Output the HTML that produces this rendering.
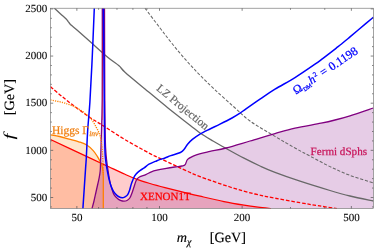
<!DOCTYPE html>
<html><head><meta charset="utf-8"><style>
html,body{margin:0;padding:0;background:#fff;}
body{width:375px;height:250px;overflow:hidden;font-family:"Liberation Serif",serif;}
svg{display:block;position:absolute;left:0;top:0;will-change:transform;}
text{font-family:"Liberation Serif",serif;text-rendering:geometricPrecision;}
</style></head><body>
<svg width="375" height="250" viewBox="0 0 375 250">
<rect x="0" y="0" width="375" height="250" fill="#ffffff"/>
<defs><clipPath id="c"><rect x="50.5" y="8.2" width="322.9" height="200.4"/></clipPath></defs>
<g clip-path="url(#c)" fill="none" stroke-linejoin="round">
<path d="M50.50,139.50 C56.58,142.35 77.28,152.05 87.00,156.60 C96.72,161.15 102.47,163.85 108.80,166.80 C115.13,169.75 120.30,172.20 125.00,174.30 C129.70,176.40 132.83,177.87 137.00,179.40 C141.17,180.93 145.33,182.13 150.00,183.50 C154.67,184.87 159.17,186.08 165.00,187.60 C170.83,189.12 179.17,191.17 185.00,192.60 C190.83,194.03 193.50,194.70 200.00,196.20 C206.50,197.70 216.67,200.10 224.00,201.60 C231.33,203.10 238.33,204.27 244.00,205.20 C249.67,206.13 253.50,206.63 258.00,207.20 C262.50,207.77 268.83,208.37 271.00,208.60 L50.50,208.60 Z" fill="rgb(255,0,0)" fill-opacity="0.2"/>
<path d="M50.50,134.90 C52.02,135.17 56.48,135.80 59.60,136.50 C62.72,137.20 66.00,138.22 69.20,139.10 C72.40,139.98 75.87,140.82 78.80,141.80 C81.73,142.78 84.40,143.53 86.80,145.00 C89.20,146.47 91.47,148.73 93.20,150.60 C94.93,152.47 96.00,154.27 97.20,156.20 C98.40,158.13 99.55,160.40 100.40,162.20 C101.25,164.00 101.85,165.37 102.30,167.00 C102.75,168.63 102.93,170.17 103.10,172.00 C103.27,173.83 103.27,177.00 103.30,178.00 L103.3,208.60 L50.50,208.60 Z" fill="rgb(255,128,0)" fill-opacity="0.2"/>
<path d="M92.00,208.60 C92.33,207.33 93.33,203.77 94.00,201.00 C94.67,198.23 95.37,194.83 96.00,192.00 C96.63,189.17 97.27,186.40 97.80,184.00 C98.33,181.60 98.80,179.77 99.20,177.60 C99.60,175.43 99.98,173.27 100.20,171.00 C100.42,168.73 100.33,169.17 100.50,164.00 C100.67,158.83 100.92,150.67 101.20,140.00 C101.48,129.33 102.02,121.97 102.20,100.00 C102.38,78.03 102.28,23.50 102.30,8.20 L104.50,8.20 C104.55,23.50 104.67,78.03 104.80,100.00 C104.93,121.97 105.08,130.83 105.30,140.00 C105.52,149.17 105.80,151.00 106.10,155.00 C106.40,159.00 106.52,159.83 107.10,164.00 C107.68,168.17 108.85,176.00 109.60,180.00 C110.35,184.00 110.87,185.57 111.60,188.00 C112.33,190.43 112.93,192.77 114.00,194.60 C115.07,196.43 116.83,197.98 118.00,199.00 C119.17,200.02 120.00,200.33 121.00,200.70 C122.00,201.07 123.00,201.23 124.00,201.20 C125.00,201.17 126.03,201.03 127.00,200.50 C127.97,199.97 129.00,199.17 129.80,198.00 C130.60,196.83 131.13,195.25 131.80,193.50 C132.47,191.75 133.05,189.72 133.80,187.50 C134.55,185.28 135.37,181.95 136.30,180.20 C137.23,178.45 137.82,177.93 139.40,177.00 C140.98,176.07 143.80,175.47 145.80,174.60 C147.80,173.73 149.53,172.53 151.40,171.80 C153.27,171.07 154.73,170.73 157.00,170.20 C159.27,169.67 162.07,169.13 165.00,168.60 C167.93,168.07 171.77,167.43 174.60,167.00 C177.43,166.57 180.23,166.40 182.00,166.00 C183.77,165.60 184.27,165.70 185.20,164.60 C186.13,163.50 186.27,160.80 187.60,159.40 C188.93,158.00 191.20,157.13 193.20,156.20 C195.20,155.27 196.80,154.60 199.60,153.80 C202.40,153.00 205.60,152.37 210.00,151.40 C214.40,150.43 219.33,149.73 226.00,148.00 C232.67,146.27 241.83,143.40 250.00,141.00 C258.17,138.60 267.50,135.73 275.00,133.60 C282.50,131.47 287.33,129.93 295.00,128.20 C302.67,126.47 314.33,124.57 321.00,123.20 C327.67,121.83 330.17,121.23 335.00,120.00 C339.83,118.77 343.60,117.80 350.00,115.80 C356.40,113.80 369.50,109.30 373.40,108.00 L373.40,208.60 L92.00,208.60 Z" fill="rgb(128,0,128)" fill-opacity="0.2"/>
<path d="M54.40,8.20 C55.43,9.17 58.63,12.20 60.60,14.00 C62.57,15.80 64.97,17.78 66.20,19.00 C67.43,20.22 67.40,20.52 68.00,21.30 C68.60,22.08 69.13,22.95 69.80,23.70 C70.47,24.45 70.80,24.75 72.00,25.80 C73.20,26.85 74.00,27.38 77.00,30.00 C80.00,32.62 84.83,36.92 90.00,41.50 C95.17,46.08 103.17,53.45 108.00,57.50 C112.83,61.55 116.17,63.35 119.00,65.80 C121.83,68.25 120.67,68.33 125.00,72.20 C129.33,76.07 137.83,83.03 145.00,89.00 C152.17,94.97 160.50,101.97 168.00,108.00 C175.50,114.03 184.67,121.03 190.00,125.20 C195.33,129.37 196.17,130.37 200.00,133.00 C203.83,135.63 208.67,138.43 213.00,141.00 C217.33,143.57 220.83,145.53 226.00,148.40 C231.17,151.27 238.33,155.27 244.00,158.20 C249.67,161.13 254.83,163.63 260.00,166.00 C265.17,168.37 268.33,169.87 275.00,172.40 C281.67,174.93 290.83,178.18 300.00,181.20 C309.17,184.22 321.67,188.03 330.00,190.50 C338.33,192.97 342.77,194.25 350.00,196.00 C357.23,197.75 369.50,200.17 373.40,201.00" stroke="#686868" stroke-width="1.3"/>
<path d="M145.00,8.20 C147.50,11.50 155.83,22.53 160.00,28.00 C164.17,33.47 166.67,36.80 170.00,41.00 C173.33,45.20 176.67,49.27 180.00,53.20 C183.33,57.13 186.67,60.93 190.00,64.60 C193.33,68.27 195.93,71.08 200.00,75.20 C204.07,79.32 208.73,84.00 214.40,89.30 C220.07,94.60 228.07,101.72 234.00,107.00 C239.93,112.28 243.17,116.10 250.00,121.00 C256.83,125.90 267.50,131.90 275.00,136.40 C282.50,140.90 289.00,144.63 295.00,148.00 C301.00,151.37 305.17,153.50 311.00,156.60 C316.83,159.70 323.50,163.47 330.00,166.60 C336.50,169.73 342.77,172.67 350.00,175.40 C357.23,178.13 369.50,181.73 373.40,183.00" stroke="#686868" stroke-width="1.05" stroke-dasharray="3.2 1.7"/>
<path d="M50.50,139.50 C56.58,142.35 77.28,152.05 87.00,156.60 C96.72,161.15 102.47,163.85 108.80,166.80 C115.13,169.75 120.30,172.20 125.00,174.30 C129.70,176.40 132.83,177.87 137.00,179.40 C141.17,180.93 145.33,182.13 150.00,183.50 C154.67,184.87 159.17,186.08 165.00,187.60 C170.83,189.12 179.17,191.17 185.00,192.60 C190.83,194.03 193.50,194.70 200.00,196.20 C206.50,197.70 216.67,200.10 224.00,201.60 C231.33,203.10 238.33,204.27 244.00,205.20 C249.67,206.13 253.50,206.63 258.00,207.20 C262.50,207.77 268.83,208.37 271.00,208.60" stroke="rgb(255,0,0)" stroke-width="1.2"/>
<path d="M50.50,86.60 C50.95,87.00 51.28,87.35 53.20,89.00 C55.12,90.65 58.53,93.67 62.00,96.50 C65.47,99.33 69.33,102.50 74.00,106.00 C78.67,109.50 84.93,114.08 90.00,117.50 C95.07,120.92 98.57,122.82 104.40,126.50 C110.23,130.18 117.40,135.08 125.00,139.60 C132.60,144.12 144.67,150.70 150.00,153.60 C155.33,156.50 153.27,155.23 157.00,157.00 C160.73,158.77 167.73,162.00 172.40,164.20 C177.07,166.40 180.40,168.13 185.00,170.20 C189.60,172.27 192.50,173.80 200.00,176.60 C207.50,179.40 220.83,184.10 230.00,187.00 C239.17,189.90 247.50,192.13 255.00,194.00 C262.50,195.87 267.50,196.75 275.00,198.20 C282.50,199.65 292.83,201.45 300.00,202.70 C307.17,203.95 311.83,204.72 318.00,205.70 C324.17,206.68 333.83,208.12 337.00,208.60" stroke="rgb(255,0,0)" stroke-width="1.3" stroke-dasharray="3.6 1.8"/>
<path d="M50.50,134.90 C52.02,135.17 56.48,135.80 59.60,136.50 C62.72,137.20 66.00,138.22 69.20,139.10 C72.40,139.98 75.87,140.82 78.80,141.80 C81.73,142.78 84.40,143.53 86.80,145.00 C89.20,146.47 91.47,148.73 93.20,150.60 C94.93,152.47 96.00,154.27 97.20,156.20 C98.40,158.13 99.55,160.40 100.40,162.20 C101.25,164.00 101.85,165.37 102.30,167.00 C102.75,168.63 102.93,170.17 103.10,172.00 C103.27,173.83 103.27,177.00 103.30,178.00 L103.3,208.6" stroke="rgb(255,128,0)" stroke-width="1.3"/>
<path d="M92.00,208.60 C92.33,207.33 93.33,203.77 94.00,201.00 C94.67,198.23 95.37,194.83 96.00,192.00 C96.63,189.17 97.27,186.40 97.80,184.00 C98.33,181.60 98.80,179.77 99.20,177.60 C99.60,175.43 99.98,173.27 100.20,171.00 C100.42,168.73 100.33,169.17 100.50,164.00 C100.67,158.83 100.92,150.67 101.20,140.00 C101.48,129.33 102.02,121.97 102.20,100.00 C102.38,78.03 102.28,23.50 102.30,8.20" stroke="rgb(128,0,128)" stroke-width="1.3"/>
<path d="M104.50,8.20 C104.55,23.50 104.67,78.03 104.80,100.00 C104.93,121.97 105.08,130.83 105.30,140.00 C105.52,149.17 105.80,151.00 106.10,155.00 C106.40,159.00 106.52,159.83 107.10,164.00 C107.68,168.17 108.85,176.00 109.60,180.00 C110.35,184.00 110.87,185.57 111.60,188.00 C112.33,190.43 112.93,192.77 114.00,194.60 C115.07,196.43 116.83,197.98 118.00,199.00 C119.17,200.02 120.00,200.33 121.00,200.70 C122.00,201.07 123.00,201.23 124.00,201.20 C125.00,201.17 126.03,201.03 127.00,200.50 C127.97,199.97 129.00,199.17 129.80,198.00 C130.60,196.83 131.13,195.25 131.80,193.50 C132.47,191.75 133.05,189.72 133.80,187.50 C134.55,185.28 135.37,181.95 136.30,180.20 C137.23,178.45 137.82,177.93 139.40,177.00 C140.98,176.07 143.80,175.47 145.80,174.60 C147.80,173.73 149.53,172.53 151.40,171.80 C153.27,171.07 154.73,170.73 157.00,170.20 C159.27,169.67 162.07,169.13 165.00,168.60 C167.93,168.07 171.77,167.43 174.60,167.00 C177.43,166.57 180.23,166.40 182.00,166.00 C183.77,165.60 184.27,165.70 185.20,164.60 C186.13,163.50 186.27,160.80 187.60,159.40 C188.93,158.00 191.20,157.13 193.20,156.20 C195.20,155.27 196.80,154.60 199.60,153.80 C202.40,153.00 205.60,152.37 210.00,151.40 C214.40,150.43 219.33,149.73 226.00,148.00 C232.67,146.27 241.83,143.40 250.00,141.00 C258.17,138.60 267.50,135.73 275.00,133.60 C282.50,131.47 287.33,129.93 295.00,128.20 C302.67,126.47 314.33,124.57 321.00,123.20 C327.67,121.83 330.17,121.23 335.00,120.00 C339.83,118.77 343.60,117.80 350.00,115.80 C356.40,113.80 369.50,109.30 373.40,108.00" stroke="rgb(128,0,128)" stroke-width="1.3"/>
<path d="M50.50,99.90 C52.55,100.33 59.42,101.62 62.80,102.50 C66.18,103.38 68.67,104.40 70.80,105.20 C72.93,106.00 73.40,106.08 75.60,107.30 C77.80,108.52 81.33,110.45 84.00,112.50 C86.67,114.55 89.53,117.08 91.60,119.60 C93.67,122.12 95.08,125.20 96.40,127.60 C97.72,130.00 98.68,131.60 99.50,134.00 C100.32,136.40 100.82,139.00 101.30,142.00 C101.78,145.00 102.12,148.33 102.40,152.00 C102.68,155.67 102.85,160.17 103.00,164.00 C103.15,167.83 103.25,173.17 103.30,175.00" stroke="rgb(255,128,0)" stroke-width="1.3" stroke-dasharray="1.2 1.1"/>
<path d="M102.8,8.2 L102.6,120" stroke="rgb(255,0,0)" stroke-width="0.8" stroke-opacity="0.45"/>
<path d="M82.90,208.60 C83.35,201.83 85.03,176.43 85.60,168.00 C86.17,159.57 85.95,164.33 86.30,158.00 C86.65,151.67 87.10,139.33 87.70,130.00 C88.30,120.67 89.15,114.00 89.90,102.00 C90.65,90.00 91.47,73.63 92.20,58.00 C92.93,42.37 93.95,16.50 94.30,8.20" stroke="rgb(0,0,255)" stroke-width="1.5"/>
<path d="M103.30,8.20 C103.40,16.83 103.73,44.37 103.90,60.00 C104.07,75.63 104.17,88.67 104.30,102.00 C104.43,115.33 104.55,131.17 104.70,140.00 C104.85,148.83 104.95,151.00 105.20,155.00 C105.45,159.00 105.93,161.83 106.20,164.00 C106.47,166.17 106.33,165.47 106.80,168.00 C107.27,170.53 108.32,176.23 109.00,179.20 C109.68,182.17 110.20,183.87 110.90,185.80 C111.60,187.73 112.38,189.38 113.20,190.80 C114.02,192.22 114.93,193.35 115.80,194.30 C116.67,195.25 117.30,195.92 118.40,196.50 C119.50,197.08 121.30,197.75 122.40,197.80 C123.50,197.85 124.15,197.28 125.00,196.80 C125.85,196.32 126.75,195.95 127.50,194.90 C128.25,193.85 128.83,192.40 129.50,190.50 C130.17,188.60 130.63,185.95 131.50,183.50 C132.37,181.05 133.52,177.78 134.70,175.80 C135.88,173.82 137.02,172.93 138.60,171.60 C140.18,170.27 142.47,169.03 144.20,167.80 C145.93,166.57 147.13,165.27 149.00,164.20 C150.87,163.13 153.63,162.17 155.40,161.40 C157.17,160.63 158.00,160.17 159.60,159.60 C161.20,159.03 163.13,158.67 165.00,158.00 C166.87,157.33 168.23,156.52 170.80,155.60 C173.37,154.68 178.13,153.60 180.40,152.50 C182.67,151.40 183.20,150.38 184.40,149.00 C185.60,147.62 186.27,145.80 187.60,144.20 C188.93,142.60 190.40,141.05 192.40,139.40 C194.40,137.75 196.67,136.03 199.60,134.30 C202.53,132.57 206.60,130.68 210.00,129.00 C213.40,127.32 216.33,126.03 220.00,124.20 C223.67,122.37 228.67,119.83 232.00,118.00 C235.33,116.17 237.67,114.73 240.00,113.20 C242.33,111.67 242.67,111.13 246.00,108.80 C249.33,106.47 255.17,102.47 260.00,99.20 C264.83,95.93 269.17,92.80 275.00,89.20 C280.83,85.60 288.33,81.77 295.00,77.60 C301.67,73.43 310.33,67.42 315.00,64.20 C319.67,60.98 319.50,60.95 323.00,58.30 C326.50,55.65 332.92,50.68 336.00,48.30 C339.08,45.92 339.17,45.90 341.50,44.00 C343.83,42.10 345.92,40.33 350.00,36.90 C354.08,33.47 362.10,26.68 366.00,23.40 C369.90,20.12 372.17,18.23 373.40,17.20" stroke="rgb(0,0,255)" stroke-width="1.5"/>
</g>
<path d="M76.87,208.60 L76.87,206.00 M76.87,8.20 L76.87,10.80 M159.50,208.60 L159.50,206.00 M159.50,8.20 L159.50,10.80 M242.13,208.60 L242.13,206.00 M242.13,8.20 L242.13,10.80 M351.37,208.60 L351.37,206.00 M351.37,8.20 L351.37,10.80 M98.60,208.60 L98.60,207.00 M98.60,8.20 L98.60,9.80 M116.98,208.60 L116.98,207.00 M116.98,8.20 L116.98,9.80 M132.90,208.60 L132.90,207.00 M132.90,8.20 L132.90,9.80 M146.94,208.60 L146.94,207.00 M146.94,8.20 L146.94,9.80 M290.47,208.60 L290.47,207.00 M290.47,8.20 L290.47,9.80 M324.77,208.60 L324.77,207.00 M324.77,8.20 L324.77,9.80 M50.50,206.93 L51.90,206.93 M373.40,206.93 L372.00,206.93 M50.50,197.50 L53.20,197.50 M373.40,197.50 L370.70,197.50 M50.50,188.07 L51.90,188.07 M373.40,188.07 L372.00,188.07 M50.50,178.64 L51.90,178.64 M373.40,178.64 L372.00,178.64 M50.50,169.21 L51.90,169.21 M373.40,169.21 L372.00,169.21 M50.50,159.78 L51.90,159.78 M373.40,159.78 L372.00,159.78 M50.50,150.35 L53.20,150.35 M373.40,150.35 L370.70,150.35 M50.50,140.92 L51.90,140.92 M373.40,140.92 L372.00,140.92 M50.50,131.49 L51.90,131.49 M373.40,131.49 L372.00,131.49 M50.50,122.06 L51.90,122.06 M373.40,122.06 L372.00,122.06 M50.50,112.63 L51.90,112.63 M373.40,112.63 L372.00,112.63 M50.50,103.20 L53.20,103.20 M373.40,103.20 L370.70,103.20 M50.50,93.77 L51.90,93.77 M373.40,93.77 L372.00,93.77 M50.50,84.34 L51.90,84.34 M373.40,84.34 L372.00,84.34 M50.50,74.91 L51.90,74.91 M373.40,74.91 L372.00,74.91 M50.50,65.48 L51.90,65.48 M373.40,65.48 L372.00,65.48 M50.50,56.05 L53.20,56.05 M373.40,56.05 L370.70,56.05 M50.50,46.62 L51.90,46.62 M373.40,46.62 L372.00,46.62 M50.50,37.19 L51.90,37.19 M373.40,37.19 L372.00,37.19 M50.50,27.76 L51.90,27.76 M373.40,27.76 L372.00,27.76 M50.50,18.33 L51.90,18.33 M373.40,18.33 L372.00,18.33 M50.50,8.90 L53.20,8.90 M373.40,8.90 L370.70,8.90" stroke="#505050" stroke-width="0.7" fill="none"/>
<rect x="50.5" y="8.2" width="322.9" height="200.4" fill="none" stroke="#666" stroke-width="0.6"/>
<g font-size="11" fill="#000" stroke="#000" stroke-width="0.08">
<text x="47.3" y="11.8" text-anchor="end">2500</text>
<text x="47.3" y="59.3" text-anchor="end">2000</text>
<text x="47.3" y="106.4" text-anchor="end">1500</text>
<text x="47.3" y="153.5" text-anchor="end">1000</text>
<text x="47.3" y="200.7" text-anchor="end">500</text>
<text x="76.9" y="220.8" text-anchor="middle">50</text>
<text x="159.5" y="220.8" text-anchor="middle">100</text>
<text x="242.1" y="220.8" text-anchor="middle">200</text>
<text x="351.4" y="220.8" text-anchor="middle">500</text>
</g>
<g font-size="14.2" fill="#000" stroke="#000" stroke-width="0.15">
<text x="176.8" y="242.4"><tspan font-style="italic">m</tspan><tspan font-style="italic" font-size="10" dy="3">χ</tspan></text>
<text x="209.7" y="242.4">[GeV]</text>
<text transform="translate(14,115.2) rotate(-90)">[GeV]</text>
<text transform="translate(14,139.4) rotate(-90) scale(1.4,1)" font-style="italic" font-size="15" stroke="none">f</text>
</g>
<text x="51.9" y="133.9" font-size="11.5" fill="rgb(240,128,20)" stroke="rgb(240,128,20)" stroke-width="0.25">Higgs Γ<tspan font-style="italic" font-size="7.6" dy="2.1" dx="0.3">inv</tspan></text>
<text x="140" y="200.4" font-size="11" fill="rgb(255,0,0)" stroke="rgb(255,0,0)" stroke-width="0.25">XENON1T</text>
<text x="310.6" y="154.6" font-size="11.1" fill="rgb(200,20,90)" stroke="rgb(200,20,90)" stroke-width="0.25">Fermi dSphs</text>
<text transform="translate(155.8,89.4) rotate(39.6)" font-size="11.5" fill="#666" stroke="#666" stroke-width="0.2">LZ Projection</text>
<text transform="translate(296.1,94.8) rotate(-33.8)" font-size="12" fill="rgb(0,0,255)" stroke="rgb(0,0,255)" stroke-width="0.25">Ω<tspan font-size="5.8" dy="2">DM</tspan><tspan font-style="italic" dy="-2" dx="0.3">h</tspan><tspan font-size="7" dy="-4.2" dx="0.6">2</tspan><tspan dy="4.2" dx="3.8">=</tspan><tspan dx="3.6">0.1198</tspan></text>
</svg>
</body></html>
